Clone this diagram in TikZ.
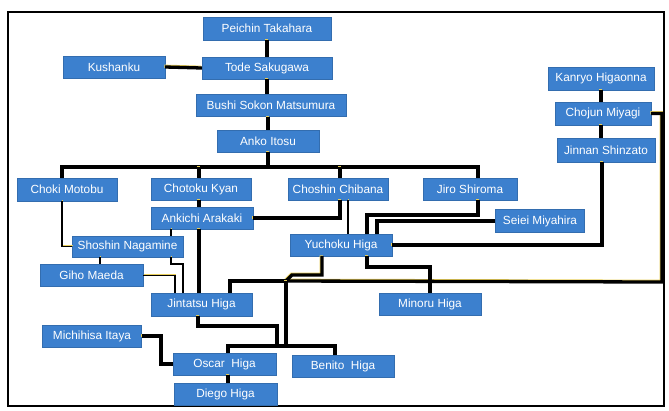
\documentclass[tikz,border=0pt]{standalone}
\usepackage{fontspec}
\setmainfont{Liberation Sans}
\definecolor{boxblue}{RGB}{60,128,206}
\definecolor{halo}{RGB}{232,206,90}
\tikzset{
  pbox/.style={rectangle, fill=boxblue, draw=boxblue!85!black, line width=0.3pt, text=white, inner sep=0pt,
    font=\fontsize{11.8}{13}\selectfont},
  thickline/.style={line width=3.3pt, black, line join=miter,
    preaction={draw=halo, line width=3.3pt, transform canvas={shift={(-0.7pt,0.7pt)}}}},
  thinline/.style={line width=1.2pt, black,
    preaction={draw=halo, line width=1.2pt, transform canvas={shift={(0.7pt,0.7pt)}}}},
}
\begin{document}
\begin{tikzpicture}[x=1pt,y=-1pt]
\useasboundingbox (0,0) rectangle (669,410);
\fill[white] (0,0) rectangle (669,410);
\draw[line width=2pt] (8,12) rectangle (664,406);

% nodes
\node[pbox, minimum width=128, minimum height=23] (pt) at (267,28.5) {Peichin Takahara};
\node[pbox, minimum width=130, minimum height=22] (ts) at (267,68) {Tode Sakugawa};
\node[pbox, minimum width=102, minimum height=22] (ku) at (114,67) {Kushanku};
\node[pbox, minimum width=150, minimum height=22] (bm) at (271,105.5) {Bushi Sokon Matsumura};
\node[pbox, minimum width=102, minimum height=22] (ai) at (268,141) {Anko Itosu};
\node[pbox, minimum width=100, minimum height=23] (cm) at (67,189.5) {Choki Motobu};
\node[pbox, minimum width=100, minimum height=22] (ck) at (201,189) {Chotoku Kyan};
\node[pbox, minimum width=100, minimum height=22] (cc) at (338,189) {Choshin Chibana};
\node[pbox, minimum width=94, minimum height=22] (js) at (470,189) {Jiro Shiroma};
\node[pbox, minimum width=102, minimum height=22] (aa) at (202,218) {Ankichi Arakaki};
\node[pbox, minimum width=111, minimum height=21] (sn) at (127.5,246.5) {Shoshin Nagamine};
\node[pbox, minimum width=103, minimum height=22] (gm) at (91.5,275.5) {Giho Maeda};
\node[pbox, minimum width=102, minimum height=22] (yh) at (341,245) {Yuchoku Higa};
\node[pbox, minimum width=89, minimum height=23] (sm) at (540,221) {Seiei Miyahira};
\node[pbox, minimum width=101, minimum height=23] (jh) at (201.5,304.5) {Jintatsu Higa};
\node[pbox, minimum width=102, minimum height=22] (mh) at (430,304) {Minoru Higa};
\node[pbox, minimum width=99, minimum height=22] (mi) at (92,336) {Michihisa Itaya};
\node[pbox, minimum width=103, minimum height=22] (oh) at (224.5,364) {Oscar\ \ Higa};
\node[pbox, minimum width=102, minimum height=22] (bh) at (343,366) {Benito\ \ Higa};
\node[pbox, minimum width=103, minimum height=22] (dh) at (225.5,394) {Diego Higa};
\node[pbox, minimum width=106, minimum height=23] (kh) at (601,78.5) {Kanryo Higaonna};
\node[pbox, minimum width=96, minimum height=23] (cj) at (603,113.5) {Chojun Miyagi};
\node[pbox, minimum width=98, minimum height=24] (jn) at (606,150) {Jinnan Shinzato};

\coordinate (busL) at (62,167);
\coordinate (busR) at (478,167);
\coordinate (J) at (286,281);

% thin connectors
\draw[thinline] (cm.south -| 62,0) |- (sn.west);
\draw[thinline] (sn.south -| 100,0) -- (gm.north -| 100,0);
\draw[thinline] (aa.south -| 171,0) -- (sn.north -| 171,0);
\draw[thinline] (sn.south -| 171,0) -- (171,264) -- (183,264) -- (jh.north -| 183,0);
\draw[thinline] (gm.east) -| (jh.north -| 175,0);
\draw[thinline] (cc.south -| 348,0) -- (yh.north -| 348,0);

% thick connectors
\draw[thickline] (pt.south) -- (ts.north);
\draw[thickline] (ku.east) -- (ts.west);
\draw[thickline] (ts.south) -- (ts.south |- bm.north);
\draw[thickline] (bm.south -| ai.north) -- (ai.north);
\draw[thickline] (ai.south) -- (ai.south |- busL);
\draw[thickline] (cm.north -| busL) -- (busL) -- (busR) -- (js.north -| busR);
\draw[thickline] (ck.north -| 199,0) -- (busL -| 199,0);
\draw[thickline] (cc.north -| 340,0) -- (busL -| 340,0);
\draw[thickline] (ck.south -| 199,0) -- (aa.north -| 199,0);
\draw[thickline] (aa.south -| 199,0) -- (jh.north -| 199,0);
\draw[thickline] (cc.south -| 340,0) |- (aa.east);
\draw[thickline] (js.south -| 478,0) |- (367,215) -- (yh.north -| 367,0);
\draw[thickline] (sm.west) -| (yh.north -| 377,0);
\draw[thickline] (jn.south -| 602,0) |- (yh.east);
\draw[thickline] (kh.south -| 601,0) -- (cj.north -| 601,0);
\draw[thickline] (cj.south -| 601,0) -- (jn.north -| 601,0);
\draw[thickline] (cj.east) -| (662,282) -- (J);
\draw[thickline] (yh.south -| 322,0) -- (322,275) -- (292,275) -- (J);
\draw[thickline] (J) -- (230,281) -- (jh.north -| 230,0);
\draw[thickline] (J) -- (286,346);
\draw[thickline] (jh.south -| 198,0) |- (277,326) -- (277,346);
\draw[thickline] (oh.north -| 228,0) |- (335,346) -- (bh.north -| 335,0);
\draw[thickline] (yh.south -| 367,0) |- (430,267) -- (mh.north -| 430,0);
\draw[thickline] (mi.east) -- (mi.east -| 161,0) |- (oh.west);
\draw[thickline] (oh.south -| 228,0) -- (dh.north -| 228,0);
\end{tikzpicture}
\end{document}
